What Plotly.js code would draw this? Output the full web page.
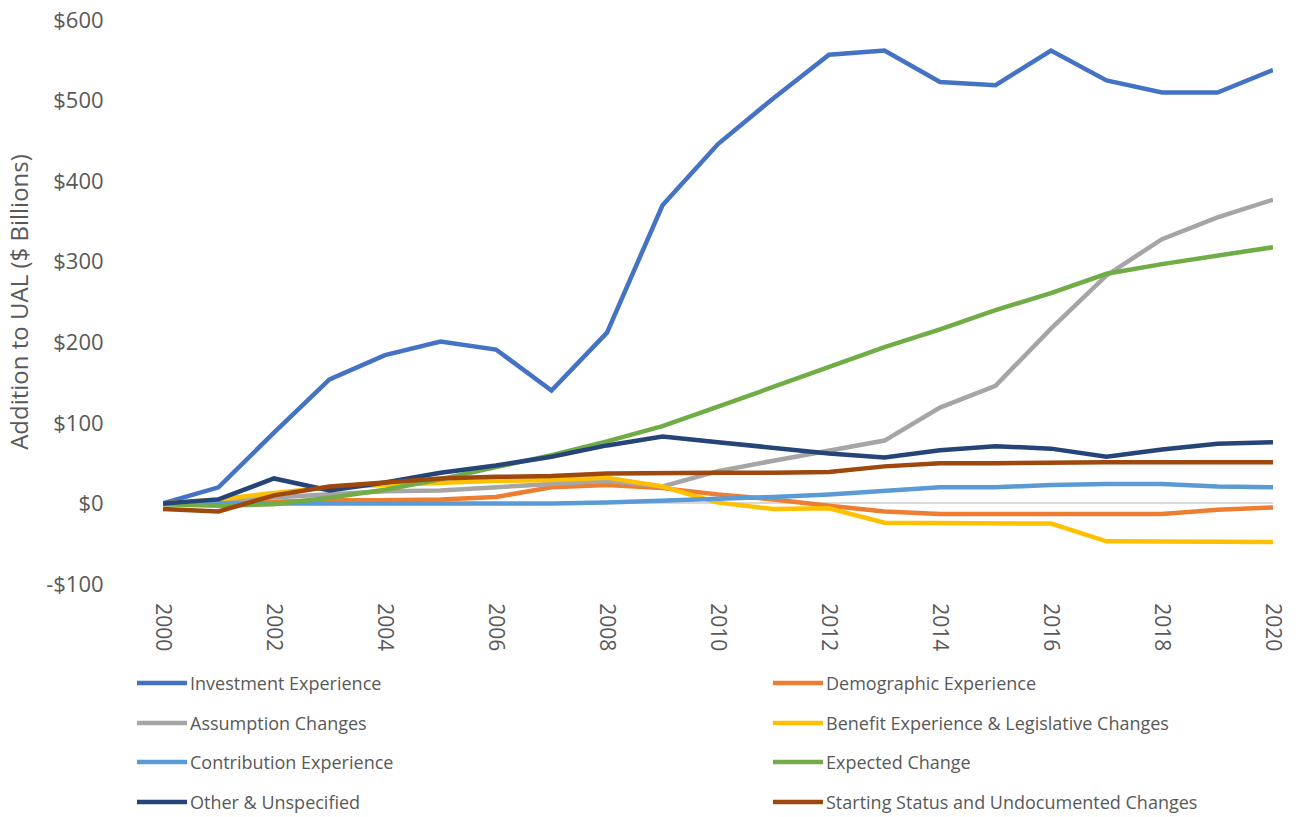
<!DOCTYPE html>
<html>
<head>
<meta charset="utf-8">
<script src="https://cdn.plot.ly/plotly-3.0.1.min.js"></script>
<style>html,body{margin:0;padding:0;background:#fff;}#chart{width:1310px;height:817px;}</style>
</head>
<body>
<div id="chart"></div>
<script>
const years = [2000,2001,2002,2003,2004,2005,2006,2007,2008,2009,2010,2011,2012,2013,2014,2015,2016,2017,2018,2019,2020];

const investmentExperience = [0,20,88,154,184,201,191,140,212,370,446,503,557,562,523,519,562,525,510,510,538];
const demographicExperience = [0,0,2,4,4,5,8,20,23,19,11,5,-3,-10,-13,-13,-13,-12,-13,-8,-5];
const assumptionChanges = [0,4,8,12,15,16,20,25,28,21,40,53,65,78,119,146,217,283,328,355,377];
const benefitExperience = [0,5,13,20,23,26,28,29,32,21,1,-7,-6,-24,-24,-24,-25,-47,-47,-48,-48];
const contributionExperience = [0,0,-1,-1,-1,-1,-1,0,1,3,5,8,11,16,20,20,23,24,24,21,20];
const expectedChange = [-1,-3,-1,7,17,30,45,60,77,96,120,145,169,194,216,240,261,285,297,308,318];
const otherUnspecified = [0,5,31,16,26,38,47,58,72,83,76,69,62,57,66,71,68,58,67,74,76];
const startingStatus = [-7,-10,10,21,26,31,33,34,37,38,38,38,39,46,50,50,51,51,51,51,51];

const seriesNames = [
  "Investment Experience","Demographic Experience","Assumption Changes",
  "Benefit Experience & Legislative Changes","Contribution Experience","Expected Change",
  "Other & Unspecified","Starting Status and Undocumented Changes"
];
const seriesValues = [investmentExperience,demographicExperience,assumptionChanges,benefitExperience,
  contributionExperience,expectedChange,otherUnspecified,startingStatus];
const seriesColors = ["#4472C4","#ED7D31","#A5A5A5","#FFC000","#5B9BD5","#70AD47","#264478","#9E480E"];

const yTickVals = [-100,0,100,200,300,400,500,600];
const yTickText = ["-$100","$0","$100","$200","$300","$400","$500","$600"];
const xTickVals = [2000,2002,2004,2006,2008,2010,2012,2014,2016,2018,2020];

const FONT = "'Open Sans', sans-serif";
const GREY = "#595959";

// plot area in pixels
const W = 1310, H = 817;
const L = 163, R = 37, T = 20, B = 233;
const pw = W - L - R, ph = H - T - B;
const px2x = p => (p - L) / pw;
const px2y = p => (H - B - p) / ph;

const traces = seriesNames.map((name, i) => ({
  x: years, y: seriesValues[i], type: "scatter", mode: "lines", name: name,
  line: {color: seriesColors[i], width: 4.5, shape: "linear"},
  showlegend: false, hoverinfo: "x+y+name"
}));

// manual legend: 2 columns x 4 rows
const shapes = [], annotations = [];
const colLinePx = [[137,187],[773,823]];
const rowYPx = [683,723,762,802];
seriesNames.forEach((name, i) => {
  const c = i % 2, r = Math.floor(i / 2);
  const yy = px2y(rowYPx[r]);
  shapes.push({type:"line", xref:"paper", yref:"paper",
    x0: px2x(colLinePx[c][0]), x1: px2x(colLinePx[c][1]), y0: yy, y1: yy,
    line:{color: seriesColors[i], width: 4.5}});
  annotations.push({xref:"paper", yref:"paper", x: px2x(colLinePx[c][1] + 1), y: yy,
    xanchor:"left", yanchor:"middle", showarrow:false, text: name,
    font:{family: FONT, size: 18, color: GREY}});
});

const layout = {
  width: W, height: H,
  margin: {l: L, r: R, t: T, b: B, pad: 0},
  paper_bgcolor: "#fff", plot_bgcolor: "#fff",
  font: {family: FONT, color: GREY},
  showlegend: false,
  xaxis: {
    range: [2000, 2020], tickvals: xTickVals, ticktext: xTickVals.map(String),
    tickangle: 90, showgrid: false, zeroline: false, showline: false,
    ticks: "outside", ticklen: 14, tickcolor: "rgba(0,0,0,0)",
    tickfont: {family: FONT, size: 21, color: GREY}, automargin: false
  },
  yaxis: {
    range: [-100, 600], tickvals: yTickVals, ticktext: yTickText,
    showgrid: false, showline: false,
    zeroline: true, zerolinecolor: "#d9d9d9", zerolinewidth: 1.5,
    ticks: "outside", ticklen: 54, tickcolor: "rgba(0,0,0,0)",
    tickfont: {family: FONT, size: 22, color: GREY}, automargin: false,
    title: {text: "Addition to UAL ($ Billions)", font: {family: FONT, size: 24, color: GREY}, standoff: 10}
  },
  shapes: shapes,
  annotations: annotations
};

Plotly.newPlot("chart", traces, layout, {displayModeBar: false, responsive: false});
</script>
</body>
</html>
